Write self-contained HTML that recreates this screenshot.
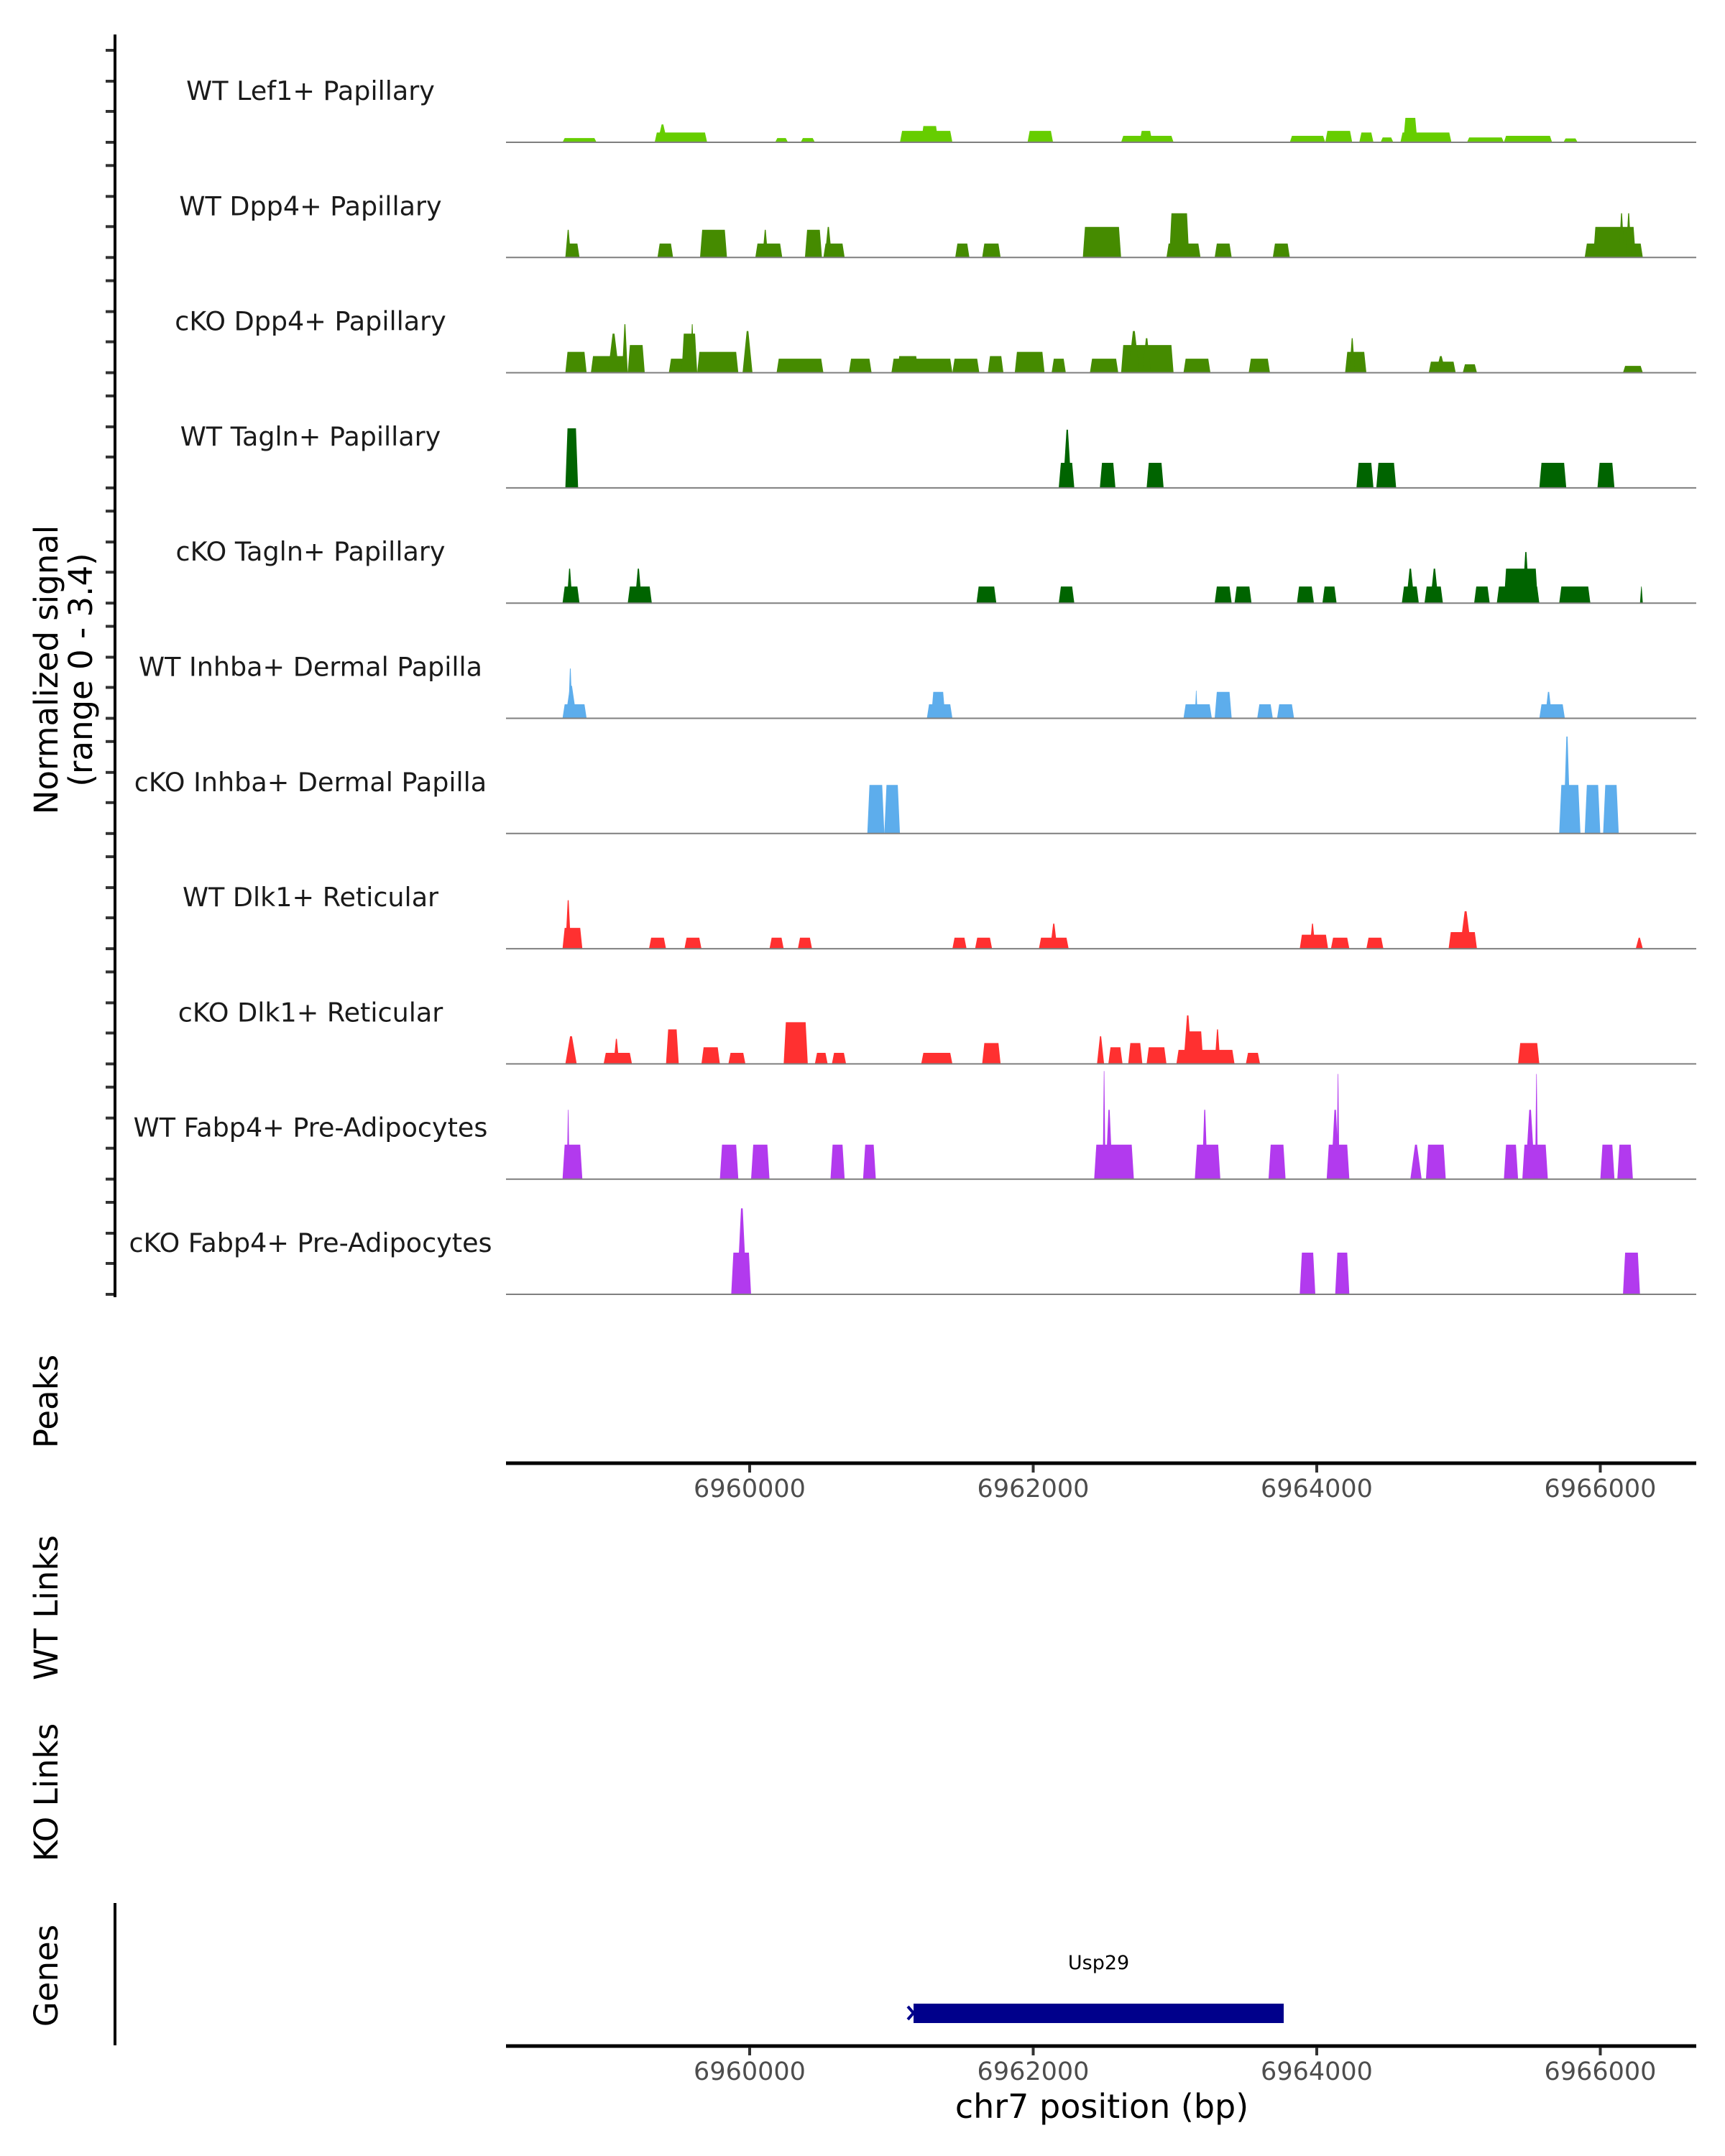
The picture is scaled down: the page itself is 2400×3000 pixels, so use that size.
<!DOCTYPE html>
<html><head><meta charset="utf-8"><style>
html,body{margin:0;padding:0;background:#fff;}
svg{display:block;font-family:"DejaVu Sans","Liberation Sans",sans-serif;}
</style></head><body>
<svg id="chart" width="2400" height="3000" viewBox="0 0 2400 3000" xmlns="http://www.w3.org/2000/svg">
<rect width="2400" height="3000" fill="#fff"/>
<g id="tracks"></g>
<line x1="160" y1="48" x2="160" y2="1805" stroke="#000" stroke-width="4"/>
<text transform="translate(80,932) rotate(-90)" text-anchor="middle" font-size="45" fill="#000">Normalized signal</text>
<text transform="translate(128,932) rotate(-90)" text-anchor="middle" font-size="45" fill="#000">(range 0 - 3.4)</text>
<text transform="translate(80,1950) rotate(-90)" text-anchor="middle" font-size="45" fill="#000">Peaks</text>
<text transform="translate(80,2237) rotate(-90)" text-anchor="middle" font-size="45" fill="#000">WT Links</text>
<text transform="translate(80,2494) rotate(-90)" text-anchor="middle" font-size="45" fill="#000">KO Links</text>
<text transform="translate(80,2749) rotate(-90)" text-anchor="middle" font-size="45" fill="#000">Genes</text>
<line x1="160" y1="2648" x2="160" y2="2846" stroke="#000" stroke-width="4"/>
<g id="axes"></g>
<g id="genes"></g>
<text x="1533" y="2947" text-anchor="middle" font-size="46" fill="#000">chr7 position (bp)</text>
</svg>
<script>
const trackNames = ["WT Lef1+ Papillary","WT Dpp4+ Papillary","cKO Dpp4+ Papillary","WT Tagln+ Papillary","cKO Tagln+ Papillary","WT Inhba+ Dermal Papilla","cKO Inhba+ Dermal Papilla","WT Dlk1+ Reticular","cKO Dlk1+ Reticular","WT Fabp4+ Pre-Adipocytes","cKO Fabp4+ Pre-Adipocytes"];
const trackColors = ["#66CD00","#458B00","#458B00","#006400","#006400","#5DADEC","#5DADEC","#FF3030","#FF3030","#B23AEE","#B23AEE"];
const xTicks = [6960000,6962000,6964000,6966000];
const tickLabels = ["6960000","6962000","6964000","6966000"];
const geneNames = ["Usp29"];
const geneStarts = [6961156];
const geneEnds = [6963767];
const signalMax = 3.4;
const lef1WT = [[6958680,6958920,.13],[6959330,6959700,.3],[6959350,6959420,.55],[6960180,6960270,.13],[6960360,6960460,.13],[6961060,6961430,.35],[6961210,6961330,.5],[6961960,6962140,.35],[6962620,6962990,.2],[6962750,6962840,.35],[6963810,6964060,.2],[6964060,6964250,.35],[6964300,6964400,.3],[6964450,6964540,.15],[6964590,6964950,.3],[6964610,6964710,.75],[6965060,6965320,.15],[6965320,6965660,.2],[6965740,6965840,.12]];
const dpp4WT = [[6958700,6958800,.43],[6958700,6958740,.85],[6959350,6959460,.43],[6959650,6959840,.85],[6960040,6960230,.43],[6960090,6960130,.85],[6960390,6960510,.85],[6960520,6960670,.43],[6960530,6960580,.94],[6961450,6961550,.43],[6961640,6961770,.43],[6962350,6962620,.94],[6962940,6963180,.43],[6962960,6963100,1.36],[6963280,6963400,.43],[6963690,6963810,.43],[6965890,6966300,.43],[6965950,6966250,.94],[6966130,6966170,1.36],[6966180,6966220,1.36]];
const dpp4KO = [[6958700,6958850,.64],[6958880,6959140,.51],[6959000,6959080,1.2],[6959100,6959140,1.49],[6959140,6959260,.85],[6959430,6959630,.43],[6959520,6959630,1.2],[6959580,6959610,1.49],[6959630,6959920,.64],[6959950,6960020,1.28],[6960190,6960520,.43],[6960700,6960860,.43],[6961000,6961430,.43],[6961040,6961190,.51],[6961430,6961620,.43],[6961680,6961790,.51],[6961870,6962080,.64],[6962130,6962230,.43],[6962400,6962600,.43],[6962620,6962990,.85],[6962670,6962750,1.28],[6962770,6962830,1.06],[6963060,6963250,.43],[6963520,6963670,.43],[6964200,6964350,.64],[6964230,6964270,1.06],[6964790,6964980,.34],[6964840,6964910,.51],[6965030,6965130,.26],[6966160,6966300,.21]];
const taglnWT = [[6958700,6958790,1.83],[6962180,6962290,.77],[6962210,6962270,1.79],[6962470,6962580,.77],[6962800,6962920,.77],[6964280,6964400,.77],[6964420,6964560,.77],[6965570,6965760,.77],[6965980,6966100,.77]];
const taglnKO = [[6958680,6958800,.51],[6958710,6958750,1.06],[6959140,6959310,.51],[6959190,6959240,1.06],[6961600,6961740,.51],[6962180,6962290,.51],[6963280,6963400,.51],[6963420,6963540,.51],[6963860,6963980,.51],[6964040,6964140,.51],[6964600,6964720,.51],[6964630,6964690,1.06],[6964760,6964890,.51],[6964800,6964860,1.06],[6965110,6965220,.51],[6965270,6965570,.51],[6965320,6965560,1.06],[6965450,6965500,1.57],[6965710,6965930,.51],[6966280,6966300,.51]];
const inhbaWT = [[6958680,6958850,.43],[6958700,6958780,1.0],[6958720,6958750,1.53],[6961250,6961430,.43],[6961280,6961380,.81],[6963060,6963260,.43],[6963140,6963160,.85],[6963280,6963400,.81],[6963580,6963690,.43],[6963720,6963840,.43],[6965570,6965750,.43],[6965610,6965660,.81]];
const inhbaKO = [[6960830,6960950,1.49],[6960950,6961060,1.49],[6965710,6965860,1.49],[6965740,6965790,2.98],[6965890,6966000,1.49],[6966020,6966130,1.49]];
const dlk1WT = [[6958680,6958820,.64],[6958700,6958740,1.49],[6959290,6959410,.34],[6959540,6959660,.34],[6960140,6960240,.34],[6960340,6960440,.34],[6961430,6961530,.34],[6961590,6961710,.34],[6962040,6962250,.34],[6962120,6962170,.77],[6963880,6964080,.43],[6963950,6963990,.77],[6964100,6964230,.34],[6964350,6964470,.34],[6964930,6965130,.51],[6965010,6965090,1.15],[6966250,6966300,.34]];
const dlk1KO = [[6958700,6958780,.85],[6958970,6959170,.34],[6959040,6959080,.77],[6959410,6959500,1.06],[6959660,6959790,.51],[6959850,6959970,.34],[6960240,6960410,1.28],[6960460,6960550,.34],[6960580,6960680,.34],[6961210,6961430,.34],[6961640,6961770,.64],[6962450,6962500,.85],[6962530,6962630,.51],[6962670,6962770,.64],[6962800,6962940,.51],[6963010,6963420,.43],[6963060,6963120,1.49],[6963080,6963200,1.0],[6963280,6963320,1.06],[6963500,6963600,.34],[6965420,6965570,.64]];
const fabp4WT = [[6958680,6958820,1.06],[6958710,6958730,2.13],[6959790,6959920,1.06],[6960010,6960140,1.06],[6960570,6960670,1.06],[6960800,6960890,1.06],[6962430,6962710,1.06],[6962490,6962510,3.32],[6962510,6962560,2.13],[6963140,6963320,1.06],[6963190,6963230,2.13],[6963660,6963780,1.06],[6964070,6964230,1.06],[6964100,6964160,2.13],[6964140,6964160,3.23],[6964660,6964740,1.06],[6964770,6964910,1.06],[6965320,6965420,1.06],[6965450,6965630,1.06],[6965470,6965540,2.13],[6965540,6965560,3.23],[6966000,6966100,1.06],[6966120,6966230,1.06]];
const fabp4KO = [[6959870,6960010,1.28],[6959910,6959980,2.64],[6963880,6963990,1.28],[6964130,6964230,1.28],[6966160,6966280,1.28]];
const trackData = [lef1WT,dpp4WT,dpp4KO,taglnWT,taglnKO,inhbaWT,inhbaKO,dlk1WT,dlk1KO,fabp4WT,fabp4KO];

const NS = "http://www.w3.org/2000/svg";
const X0 = 704, X1 = 2360;
function xScale(bp){ return 1043 + (bp - 6960000) * 0.19725; }
function baseY(i){ return 198 + i * 160.3; }
function hScale(v){ return v / signalMax * 154; }
function mk(tag, attrs, parent){ const e = document.createElementNS(NS, tag); for (const k in attrs) e.setAttribute(k, attrs[k]); parent.appendChild(e); return e; }

const tracks = document.getElementById('tracks');
trackNames.forEach((name, i) => {
  const b = baseY(i);
  const g = mk('g', {}, tracks);
  
  
  const lab = mk('text', {x: 432, y: b - 59, 'text-anchor': 'middle', 'font-size': 36.5, fill: '#1a1a1a'}, g);
  lab.textContent = name;
  
  
  trackData[i].forEach(p => {
    const xs = xScale(p[0]), xe = xScale(p[1]), h = hScale(p[2]);
    const w = xe - xs;
    const r = w < 16 ? w / 2.4 : 3;
    const poly = mk('polygon', {points: `${xs},${b} ${xs + r},${b - h} ${xe - r},${b - h} ${xe},${b}`, fill: trackColors[i]}, g);
    
    
  });
  const bl = mk('line', {x1: X0, x2: X1, y1: b, y2: b, stroke: '#7f7f7f', 'stroke-width': 2}, g);
  
  
  [0, 43, 85, 128].forEach(d => {
    const t = mk('line', {x1: 147, x2: 160, y1: b - d, y2: b - d, stroke: '#333', 'stroke-width': 4}, g);
    
    
  });
});

const axes = document.getElementById('axes');
[2036, 2847].forEach((ay, ai) => {
  const l = mk('line', {x1: X0, x2: X1, y1: ay, y2: ay, stroke: '#000', 'stroke-width': 5}, axes);
  
  
  xTicks.forEach((t, k) => {
    const x = xScale(t);
    const tk = mk('line', {x1: x, x2: x, y1: ay + 2, y2: ay + 13, stroke: '#333', 'stroke-width': 4}, axes);
    
    
    const tl = mk('text', {x: x, y: ay + 47, 'text-anchor': 'middle', 'font-size': 35, fill: '#4d4d4d'}, axes);
    tl.textContent = tickLabels[k];
    
    
  });
});

const genes = document.getElementById('genes');
geneNames.forEach((gname, i) => {
  const xs = xScale(geneStarts[i]), xe = xScale(geneEnds[i]);
  const r = mk('rect', {x: xs, y: 2788, width: xe - xs, height: 27, fill: '#00008B'}, genes);
  
  
  const m = mk('path', {d: `M${xs - 8},${2792} L${xs},${2801} L${xs - 8},${2810}`, fill: 'none', stroke: '#00008B', 'stroke-width': 4}, genes);
  
  
  const t = mk('text', {x: (xs + xe) / 2, y: 2740, 'text-anchor': 'middle', 'font-size': 27, fill: '#000'}, genes);
  t.textContent = gname;
  
  
});
</script>
</body></html>
